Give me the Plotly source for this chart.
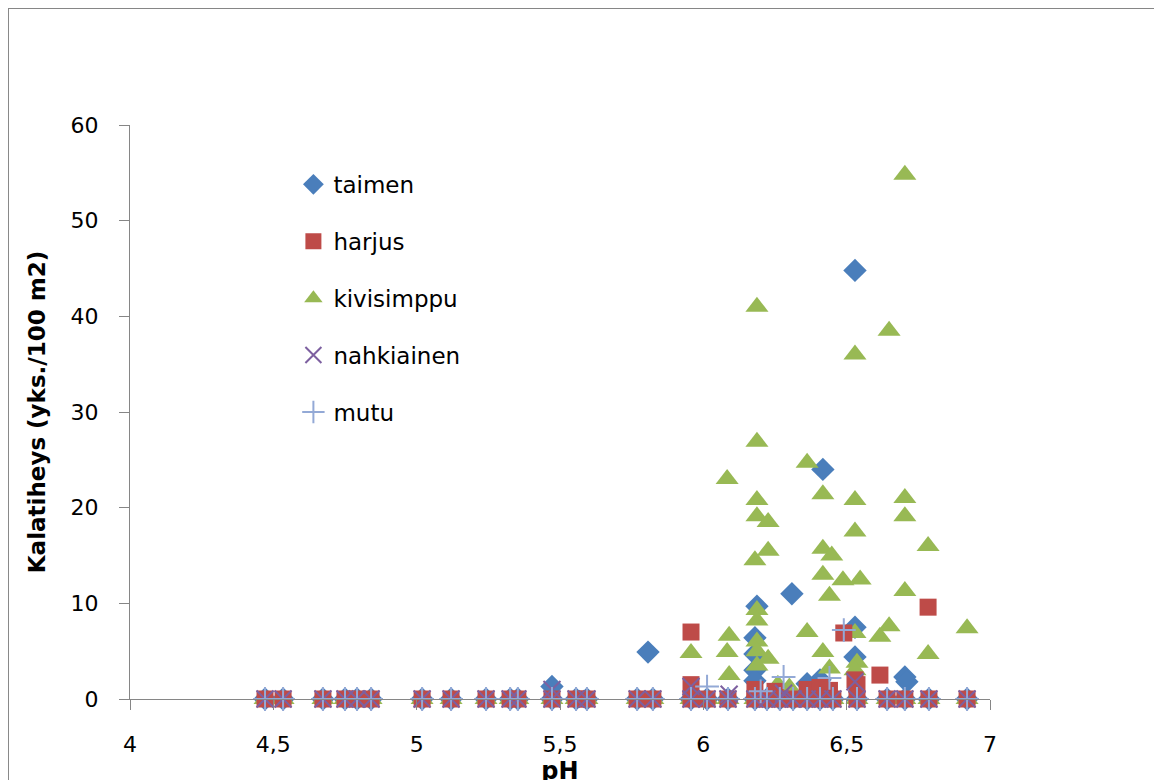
import plotly.graph_objects as go

# Sites where every species sits at 0 (pH values)
zero_ph = [4.471, 4.534, 4.673, 4.750, 4.792, 4.841, 5.019, 5.120, 5.242, 5.326,
           5.353, 5.472, 5.556, 5.594, 5.769, 5.824, 5.957, 6.013, 6.086, 6.180,
           6.222, 6.267, 6.313, 6.362, 6.407, 6.452, 6.536, 6.641, 6.703, 6.787, 6.920]

taimen_ph = [5.472, 5.807, 6.187, 6.180, 6.180, 6.180, 6.180, 6.309, 6.417, 6.529,
             6.529, 6.529, 6.703, 6.710, 6.362, 6.407]
taimen_val = [1.3, 4.9, 9.7, 6.4, 4.7, 3.0, 1.9, 11.0, 24.0, 44.8,
              7.5, 4.4, 2.3, 1.8, 1.6, 2.0]

harjus_ph = [5.957, 5.957, 6.784, 6.490, 6.616, 6.529, 6.180, 6.250, 6.362, 6.407, 6.440, 6.536]
harjus_val = [7.0, 1.5, 9.6, 6.9, 2.5, 2.0, 1.0, 0.8, 1.0, 1.2, 0.9, 1.5]

kivi_ph = [6.187, 6.529, 6.648, 6.703, 6.187, 6.362, 6.083, 6.417, 6.187, 6.529,
           6.703, 6.703, 6.187, 6.226, 6.529, 6.784, 6.226, 6.417, 6.448, 6.180,
           6.417, 6.487, 6.547, 6.703, 6.440, 6.187, 6.187, 6.920, 6.362, 6.529,
           6.648, 6.616, 6.090, 6.083, 5.957, 6.784, 6.187, 6.187, 6.226, 6.417,
           6.536, 6.529, 6.440, 6.187, 6.090, 6.260, 6.300]
kivi_val = [41.0, 36.0, 38.5, 54.8, 26.9, 24.7, 23.0, 21.4, 20.8, 20.8,
            21.0, 19.1, 19.1, 18.5, 17.5, 16.0, 15.5, 15.7, 15.0, 14.5,
            13.0, 12.4, 12.5, 11.3, 10.8, 9.3, 8.2, 7.4, 7.0, 6.9,
            7.6, 6.5, 6.6, 4.9, 4.8, 4.7, 6.0, 5.0, 4.2, 4.9,
            3.8, 3.0, 3.2, 3.5, 2.5, 1.5, 1.2]

nahk_ph = [5.472, 5.957, 6.280, 6.529, 6.090]
nahk_val = [1.0, 1.3, 0.6, 1.8, 0.5]

mutu_ph = [6.013, 6.280, 6.440, 6.490, 6.200]
mutu_val = [1.3, 2.3, 2.2, 7.2, 0.8]

x_ticks = [4, 4.5, 5, 5.5, 6, 6.5, 7]
y_ticks = [0, 10, 20, 30, 40, 50, 60]

zeros = [0.0] * len(zero_ph)

series = [
    # name, x, y, symbol, color, size, rank, line width
    ("taimen", taimen_ph, taimen_val, "diamond", "#4A7EBB", 18, 1, 0),
    ("kivisimppu", kivi_ph, kivi_val, "triangle-up", "#98B954", 20, 3, 0),
    ("harjus", harjus_ph, harjus_val, "square", "#BE4B48", 17, 2, 0),
    ("nahkiainen", nahk_ph, nahk_val, "x-thin", "#7D60A0", 17, 4, 2),
    ("mutu", mutu_ph, mutu_val, "cross-thin", "#93A9D6", 17, 5, 2),
]

fig = go.Figure()
for name, xs, ys, sym, col, size, rank, lw in series:
    marker = dict(symbol=sym, color=col, size=size)
    if lw:
        marker["line"] = dict(color=col, width=lw)
    else:
        marker["line"] = dict(width=0)
    fig.add_trace(go.Scatter(
        x=list(xs) + zero_ph, y=list(ys) + zeros, mode="markers", name=name,
        marker=marker, legendrank=rank, legendgroup=name, cliponaxis=False,
    ))

fig.update_layout(
    width=1162, height=780,
    margin=dict(l=122, r=180, t=117, b=89),
    paper_bgcolor="white", plot_bgcolor="white",
    separators=", ",
    font=dict(family="DejaVu Sans", color="black"),
    showlegend=True,
    legend=dict(x=0.19, y=0.934, xanchor="left", yanchor="top",
                font=dict(size=23, family="DejaVu Sans"),
                tracegroupgap=24, bgcolor="rgba(0,0,0,0)", itemwidth=30),
    xaxis=dict(range=[4, 7], tickvals=x_ticks, showgrid=False, zeroline=False,
               showline=True, linecolor="#868686", linewidth=1,
               ticks="outside", ticklen=10, tickcolor="#868686",
               tickfont=dict(size=22), ticklabelstandoff=16,
               title=dict(text="<b>pH</b>", font=dict(size=24), standoff=0)),
    yaxis=dict(range=[0, 60], tickvals=y_ticks, showgrid=False, zeroline=False,
               showline=True, linecolor="#868686", linewidth=1,
               ticks="outside", ticklen=10, tickcolor="#868686",
               tickfont=dict(size=22), ticklabelstandoff=16,
               title=dict(text="<b>Kalatiheys (yks./100 m2)</b>", font=dict(size=23), standoff=18)),
    shapes=[dict(type="rect", xref="paper", yref="paper",
                 x0=-0.1419, x1=1.25, y0=-0.2, y1=1.2038,
                 line=dict(color="#868686", width=2), layer="below")],
)

fig.write_html("out.html")
